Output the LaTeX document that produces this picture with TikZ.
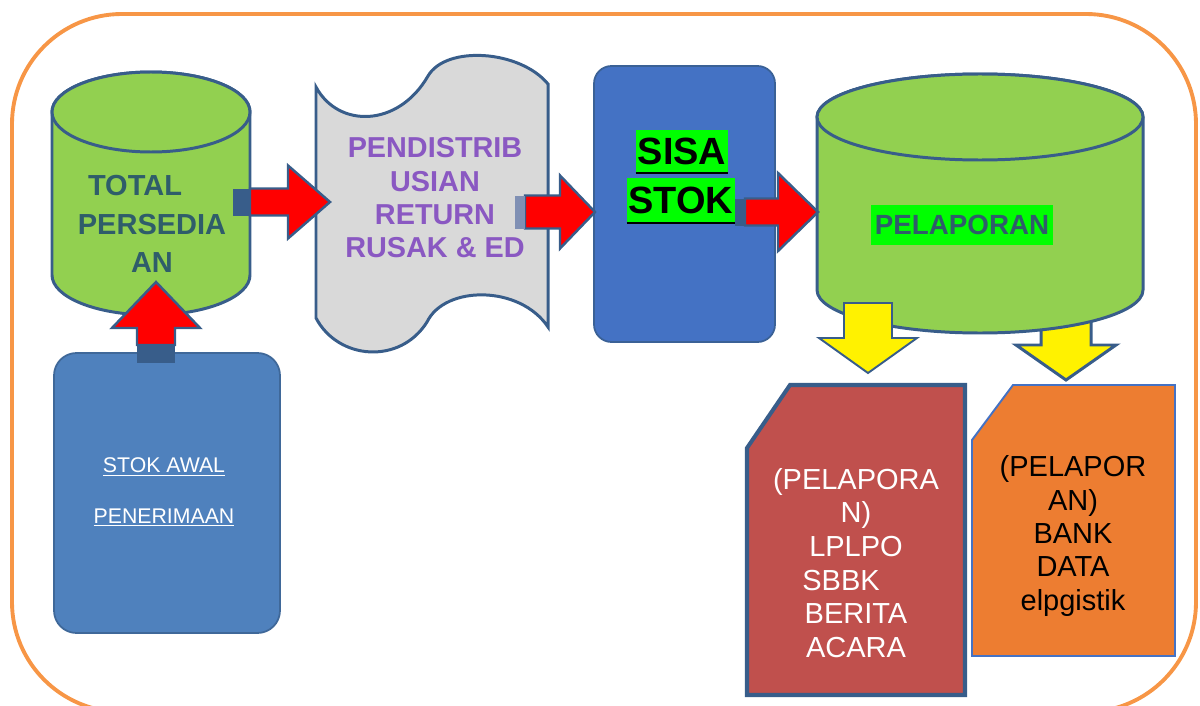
\documentclass[tikz,border=0pt]{standalone}
\usepackage{fontspec}
\setmainfont{Liberation Sans}
\usepackage{tikz}
\usetikzlibrary{calc}

\definecolor{cylgreen}{HTML}{92D050}
\definecolor{edgeblue}{HTML}{385D8A}
\definecolor{docgray}{HTML}{D9D9D9}
\definecolor{distpurple}{HTML}{8A58C2}
\definecolor{boxblue}{HTML}{4472C4}
\definecolor{awalblue}{HTML}{4F81BD}
\definecolor{hlgreen}{HTML}{00FF00}
\definecolor{redfill}{HTML}{C0504D}
\definecolor{orangefill}{HTML}{ED7D31}
\definecolor{frameorange}{HTML}{F79646}
\definecolor{tottext}{HTML}{2F5D6A}
\definecolor{stubgray}{HTML}{8090B4}

\tikzset{
  edge/.style={draw=edgeblue,line width=1.7pt},
  redarr/.style={fill=red,draw=edgeblue,line width=1.4pt},
  yelarr/.style={fill=yellow,draw=edgeblue,line width=#1},
  hl/.style={fill=hlgreen,inner xsep=1pt,inner ysep=0pt},
}

\newcommand{\blockarr}[9]{%
  \begin{scope}[shift={(#2)},rotate=#3]
    \draw[#1] (0,0) -- (-#7,#6) -- (-#7,#5) -- (-#4,#5) -- (-#4,-#5) -- (-#7,-#5) -- (-#7,-#6) -- cycle;
    \ifdim #8pt>0pt \fill[#9] (-#4-#8,-#5) rectangle (-#4,#5);\fi
  \end{scope}}

\begin{document}
\begin{tikzpicture}[x=0.02cm,y=-0.02cm]
\useasboundingbox (0,0) rectangle (1200,706);
\begin{scope}
  \clip (0,0) rectangle (1200,706);
  \draw[frameorange,line width=2.2pt,rounded corners=2.2cm] (12,14) rectangle (1196,712);
\end{scope}

\coordinate (tip1) at (330,202);
\coordinate (tip2) at (595,212);
\coordinate (tip3) at (818,212);
\coordinate (tip4) at (156,282);
\coordinate (tip5) at (868,373);
\coordinate (tip6) at (1066,380);

\blockarr{yelarr=1.7pt}{tip6}{-90}{80}{25}{50}{35}{0}{yellow}

\filldraw[edge,fill=cylgreen] (52,112) -- (52,275) arc[start angle=180,end angle=0,x radius=99,y radius=40]
  -- (250,112) arc[start angle=0,end angle=-180,x radius=99,y radius=40] -- cycle;
\filldraw[edge,fill=cylgreen] (151,112) ellipse[x radius=99,y radius=40];
\node[align=center,text=tottext,font=\fontsize{16.5}{22}\selectfont\bfseries] (tot) at (152,224) {TOTAL\hspace*{0.68cm}\\PERSEDIA\\AN};

\filldraw[edge,fill=cylgreen] (817,117) -- (817,290) arc[start angle=180,end angle=0,x radius=163,y radius=43]
  -- (1143,117) arc[start angle=0,end angle=-180,x radius=163,y radius=43] -- cycle;
\filldraw[edge,fill=cylgreen] (980,117) ellipse[x radius=163,y radius=43];
\node[hl,text=tottext,minimum width=3.66cm,minimum height=0.8cm,font=\fontsize{15.8}{18}\selectfont\bfseries] (pel) at (962,225) {PELAPORAN};

\filldraw[edge,fill=docgray] (316,87) .. controls (338,128) and (398,128) .. (428,76)
  .. controls (446,45) and (520,50) .. (548,84) -- (548,327)
  .. controls (520,285) and (445,285) .. (427,322)
  .. controls (400,365) and (338,360) .. (316,318) -- cycle;
\node[align=center,text=distpurple,font=\fontsize{16.4}{19}\selectfont\bfseries] (dist) at (435,198) {PENDISTRIB\\USIAN\\RETURN\\RUSAK \& ED};

\filldraw[draw=edgeblue!80!boxblue,line width=1pt,fill=boxblue,rounded corners=0.35cm] (594,66) rectangle (775,342);
\node[hl,minimum height=0.86cm,font=\fontsize{21.6}{24}\selectfont\bfseries] (sisa) at (682,151) {SISA};
\node[hl,minimum height=0.9cm,font=\fontsize{21.6}{24}\selectfont\bfseries] (stok) at (681,200) {STOK};
\draw[line width=1.5pt] (sisa.south west) -- (sisa.south east);
\draw[line width=1.5pt] (stok.south west) -- (stok.south east);

\filldraw[draw=edgeblue!70!awalblue,line width=1pt,fill=awalblue,rounded corners=0.45cm] (54,353) rectangle (280,633);
\node[align=center,text=white,font=\fontsize{12.1}{29}\selectfont] (awal) at (164,492) {\underline{STOK AWAL}\\\underline{PENERIMAAN}};

\blockarr{redarr}{tip1}{0}{80}{13.5}{36.5}{42}{17}{edgeblue}
\blockarr{redarr}{tip2}{0}{70}{16.5}{36.5}{35}{10}{stubgray}
\blockarr{redarr}{tip3}{0}{73}{13.5}{39}{40}{10}{edgeblue}
\blockarr{redarr}{tip4}{90}{63}{19}{44}{46}{18}{edgeblue}
\blockarr{yelarr=1.1pt}{tip5}{-90}{70}{24}{49}{35}{0}{yellow}

\filldraw[draw=edgeblue,line width=2.3pt,fill=redfill] (790,385) -- (965,385) -- (965,695) -- (747,695) -- (747,448) -- cycle;
\node[align=center,text=white,font=\fontsize{16.5}{19.2}\selectfont] (lap1) at (856,563) {(PELAPORA\\N)\\LPLPO\\\hspace*{-0.6cm}SBBK\\BERITA\\ACARA};

\filldraw[draw=boxblue,line width=1.1pt,fill=orangefill] (1013,385) -- (1175,385) -- (1175,656) -- (972,656) -- (972,440) -- cycle;
\node[align=center,font=\fontsize{16.5}{19}\selectfont] (lap2) at (1073,536) {(PELAPOR\\AN)\\BANK\\DATA\\elpgistik};
\end{tikzpicture}
\end{document}
